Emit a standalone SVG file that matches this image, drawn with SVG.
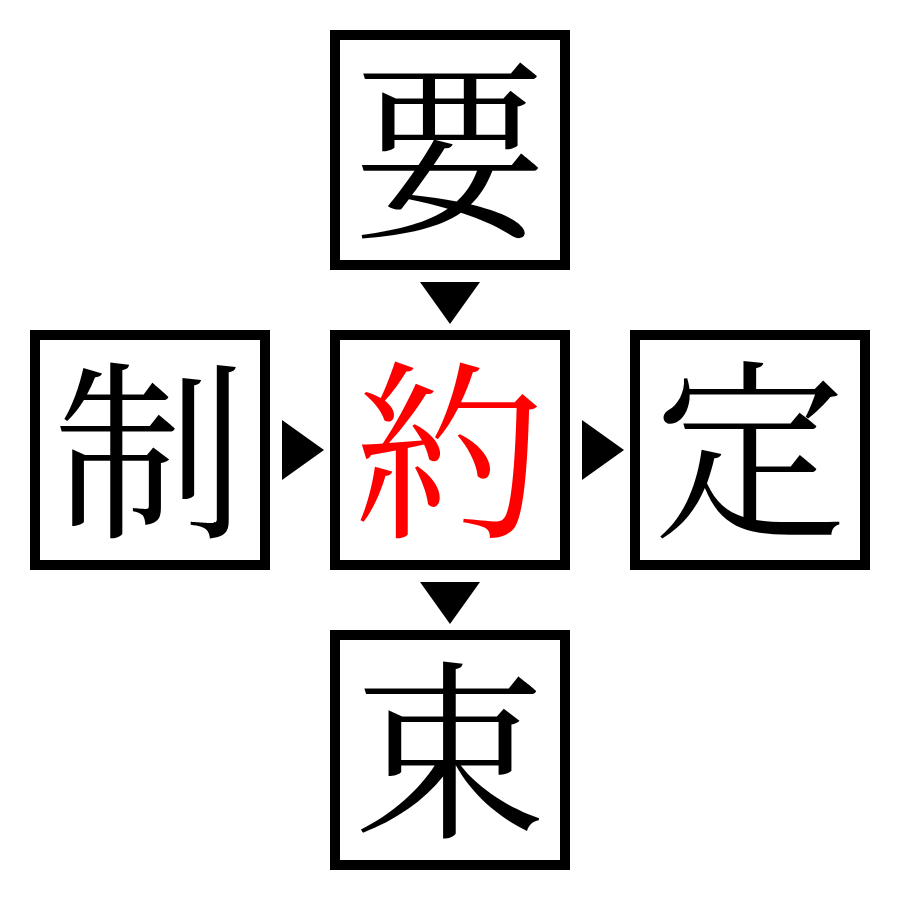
<svg xmlns="http://www.w3.org/2000/svg" width="900" height="900" viewBox="0 0 900 900">
<style>
.box{fill:#fff;stroke:#000;stroke-width:10}
.ch{font-family:'Noto Serif CJK JP','Noto Sans CJK JP',serif;font-size:192px;text-anchor:middle;fill:#000}
.red{fill:#f00}
.arr{fill:#000}
</style>
<rect width="900" height="900" fill="#fff"/>
<g id="node-top"><rect class="box" x="335" y="35" width="230" height="230"/><text class="ch" x="450" y="223">要</text></g>
<g id="node-left"><rect class="box" x="35" y="335" width="230" height="230"/><text class="ch" x="150" y="523">制</text></g>
<g id="node-center"><rect class="box" x="335" y="335" width="230" height="230"/><text class="ch red" x="450" y="523">約</text></g>
<g id="node-right"><rect class="box" x="635" y="335" width="230" height="230"/><text class="ch" x="750" y="523">定</text></g>
<g id="node-bottom"><rect class="box" x="335" y="635" width="230" height="230"/><text class="ch" x="450" y="823">束</text></g>
<g id="connectors">
<polygon class="arr" points="420,282 480,282 450,324"/>
<polygon class="arr" points="282,420 324,450 282,480"/>
<polygon class="arr" points="582,420 624,450 582,480"/>
<polygon class="arr" points="420,582 480,582 450,624"/>
</g>
</svg>
